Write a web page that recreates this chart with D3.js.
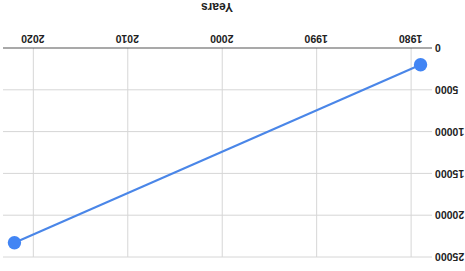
<!DOCTYPE html>
<html>
<head>
<meta charset="utf-8">
<script src="https://cdn.jsdelivr.net/npm/d3@7"></script>
<style>
  body { margin: 0; background: #fff; }
  svg { display: block; }
  text { font-family: "Liberation Sans", Arial, sans-serif; }
</style>
</head>
<body>
<svg id="chart" width="465" height="271"></svg>
<script>
const years = [1979, 2022];
const values = [2000, 23300];
const xTicks = [1980, 1990, 2000, 2010, 2020];
const yTicks = [0, 5000, 10000, 15000, 20000, 25000];
const xTitle = "Years";

const svg = d3.select("#chart");
const W = +svg.attr("width"), H = +svg.attr("height");

// the whole chart is shown turned upside down
const g = svg.append("g")
    .attr("transform", `rotate(180, ${W / 2}, ${H / 2})`);

const x = d3.scaleLinear().domain([1978, 2023]).range([35, 460]);
const y = d3.scaleLinear().domain([0, 25000]).range([223, 14]);
const left = 33, right = 462;

const data = years.map((d, i) => ({year: d, value: values[i]}));

// grid
g.append("g")
    .selectAll("line")
    .data(yTicks.slice(1))
    .enter().append("line")
    .attr("x1", left).attr("x2", right)
    .attr("y1", d => y(d)).attr("y2", d => y(d))
    .attr("stroke", "#d6d6d6").attr("stroke-width", 1);

g.append("g")
    .selectAll("line")
    .data(xTicks)
    .enter().append("line")
    .attr("x1", d => x(d)).attr("x2", d => x(d))
    .attr("y1", y(0)).attr("y2", y(25000))
    .attr("stroke", "#d6d6d6").attr("stroke-width", 1);

// x axis
const xAxis = g.append("g")
    .attr("transform", `translate(0,${y(0)})`)
    .call(d3.axisBottom(x).tickValues(xTicks).tickFormat(d3.format("d")).tickSize(0).tickPadding(6));
xAxis.select(".domain").attr("d", `M${left},0H${right}`).attr("stroke", "#555").attr("stroke-width", 1.2);
xAxis.selectAll("text").attr("font-size", 10.5).attr("font-weight", "bold").attr("fill", "#222");

// y axis labels
const yAxis = g.append("g")
    .attr("transform", `translate(${left},0)`)
    .call(d3.axisLeft(y).tickValues(yTicks).tickFormat(d3.format("d")).tickSize(0).tickPadding(3));
yAxis.select(".domain").remove();
yAxis.selectAll("text").attr("font-size", 10.5).attr("font-weight", "bold").attr("fill", "#222");

g.append("text")
    .attr("x", 248).attr("y", 268)
    .attr("text-anchor", "middle")
    .attr("font-size", 12).attr("font-weight", "bold").attr("fill", "#222")
    .text(xTitle);

// series
g.append("path")
    .datum(data)
    .attr("fill", "none")
    .attr("stroke", "#4a86e8")
    .attr("stroke-width", 2)
    .attr("d", d3.line().x(d => x(d.year)).y(d => y(d.value)));

g.selectAll("circle")
    .data(data)
    .enter().append("circle")
    .attr("cx", d => x(d.year)).attr("cy", d => y(d.value))
    .attr("r", 6.7)
    .attr("fill", "#4285f4");
</script>
</body>
</html>
